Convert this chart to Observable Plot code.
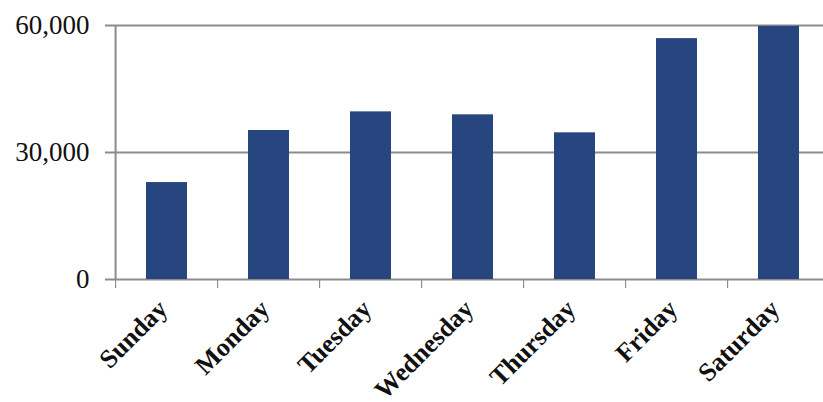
<!DOCTYPE html>
<html>
<head>
<meta charset="utf-8">
<script src="https://cdn.jsdelivr.net/npm/d3@7"></script>
<script src="https://cdn.jsdelivr.net/npm/@observablehq/plot@0.6"></script>
<style>
  html, body { margin: 0; padding: 0; background: #fff; }
  #chart svg { display: block; }
  #chart svg text { font-family: "Liberation Serif", "Times New Roman", Times, serif; }
</style>
</head>
<body>
<div id="chart"></div>
<script>
const days = ["Sunday", "Monday", "Tuesday", "Wednesday", "Thursday", "Friday", "Saturday"];
const values = [22900, 35200, 39600, 38900, 34650, 56900, 59800];
const yTicks = [0, 30000, 60000];

const data = days.map((day, i) => ({day, value: values[i]}));

const W = 823, H = 402;
const mL = 112, mT = 25, mB = 123;
const xRange = [mL, 832];
const step = (xRange[1] - xRange[0]) / days.length;

const gray = "#8c8c8c";
const navy = "#27457f";
const serif = "Liberation Serif, Times New Roman, Times, serif";

const chart = Plot.plot({
  width: W,
  height: H,
  marginLeft: mL,
  marginRight: 0,
  marginTop: mT,
  marginBottom: mB,
  style: {background: "#fff", overflow: "visible", fontFamily: serif},
  x: {domain: days, range: xRange, paddingInner: 0.6, paddingOuter: 0.3, axis: null},
  y: {domain: [0, 60000], axis: null},
  marks: [
    Plot.ruleY(yTicks, {stroke: gray, strokeWidth: 2, insetLeft: -7}),
    Plot.ruleX([days[0]], {y1: 0, y2: 60000, dx: -step / 2, stroke: gray, strokeWidth: 2}),
    Plot.ruleX(days, {y1: 0, y2: 0, dx: -step / 2, stroke: gray, strokeWidth: 1.2, insetBottom: -9}),
    Plot.barY(data, {x: "day", y: "value", fill: navy}),
    Plot.axisY({
      ticks: yTicks,
      tickSize: 0,
      tickPadding: 23,
      tickFormat: d3.format(","),
      fontSize: 27,
      fontFamily: serif,
      fill: "#111",
      label: null
    }),
    Plot.text(data, {
      x: "day",
      y: () => 0,
      text: "day",
      rotate: -45,
      textAnchor: "end",
      lineAnchor: "bottom",
      dx: 2,
      dy: 31,
      fontSize: 26,
      fontWeight: "bold",
      fontFamily: serif,
      fill: "#111"
    })
  ]
});
document.getElementById("chart").appendChild(chart);
</script>
</body>
</html>
